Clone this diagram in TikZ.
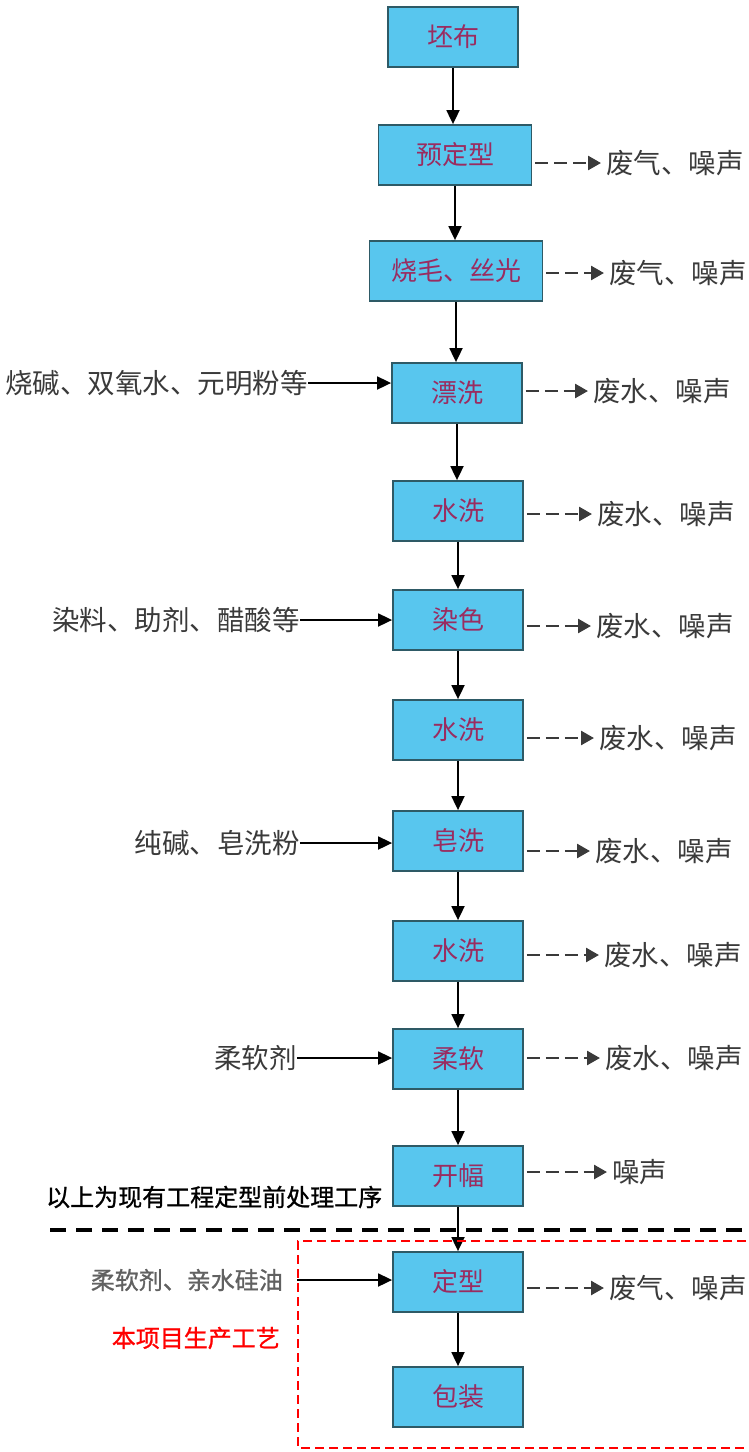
\documentclass[tikz,border=0pt]{standalone}
\usepackage{fontspec}
\setmainfont{Noto Sans CJK SC}
\usetikzlibrary{arrows.meta}
\definecolor{boxfill}{HTML}{58C6EE}
\definecolor{boxline}{HTML}{2E5A66}
\definecolor{boxtext}{HTML}{9A2C60}
\definecolor{lbl}{HTML}{3A3A3A}
\tikzset{
  box/.style={draw=boxline, fill=boxfill, line width=1.8pt, minimum width=130pt, minimum height=60pt, inner sep=0pt, text=boxtext, font=\fontsize{26pt}{26pt}\selectfont},
  outlbl/.style={anchor=west, inner sep=0pt, text=lbl, font=\fontsize{27.5pt}{27.5pt}\selectfont},
  inlbl/.style={anchor=east, inner sep=0pt, text=lbl, font=\fontsize{27.5pt}{27.5pt}\selectfont},
  flow/.style={line width=1.8pt, -{Triangle[length=14pt,width=13pt]}},
  emit/.style={line width=2.6pt, draw=lbl, dash pattern=on 13pt off 6pt, -{Triangle[length=13pt,width=14pt]}},
  note/.style={inner sep=0pt, font=\fontsize{24pt}{24pt}\selectfont\addfontfeature{FakeBold=1}}
}
\begin{document}
\begin{tikzpicture}[x=1pt,y=-1pt]
\useasboundingbox[fill=white] (0,0) rectangle (748,1452);
% boxes
\node[box] (b1) at (453,37) {坯布};
\node[box, minimum width=153pt] (b2) at (455,155) {预定型};
\node[box, minimum width=173pt] (b3) at (456,271) {烧毛、丝光};
\node[box] (b4) at (457,393) {漂洗};
\node[box] (b5) at (458,511) {水洗};
\node[box] (b6) at (458,620) {染色};
\node[box] (b7) at (458,730) {水洗};
\node[box] (b8) at (458,841) {皂洗};
\node[box] (b9) at (458,951) {水洗};
\node[box] (b10) at (458,1059) {柔软};
\node[box] (b11) at (458,1176) {开幅};
\node[box] (b12) at (458,1282) {定型};
\node[box] (b13) at (458,1397) {包装};
% vertical flow
\foreach \a/\b in {b1/b2,b2/b3,b3/b4,b4/b5,b5/b6,b6/b7,b7/b8,b8/b9,b9/b10,b10/b11,b11/b12,b12/b13}
  \draw[flow] (\a.south) -- (\a.south |- \b.north);
% outputs
\node[outlbl] (o2) at (606,163) {废气、噪声};
\node[outlbl] (o3) at (609,273) {废气、噪声};
\node[outlbl] (o4) at (593,391) {废水、噪声};
\node[outlbl] (o5) at (597,514) {废水、噪声};
\node[outlbl] (o6) at (596,626) {废水、噪声};
\node[outlbl] (o7) at (599,738) {废水、噪声};
\node[outlbl] (o8) at (595,851) {废水、噪声};
\node[outlbl] (o9) at (604,955) {废水、噪声};
\node[outlbl] (o10) at (605,1058) {废水、噪声};
\node[outlbl] (o11) at (612,1172) {噪声};
\node[outlbl] (o12) at (609,1288) {废气、噪声};
\foreach \n in {2,3,4,5,6,7,8,9,10,11,12}
  \draw[emit] (b\n.east |- o\n.west) ++(3,0) coordinate (s\n) -- ([xshift=-5pt]o\n.west);
% inputs
\node[inlbl] (i4) at (308,383) {烧碱、双氧水、元明粉等};
\node[inlbl] (i6) at (300,620) {染料、助剂、醋酸等};
\node[inlbl] (i8) at (300,843) {纯碱、皂洗粉};
\node[inlbl] (i10) at (297,1058) {柔软剂};
\foreach \n in {4,6,8,10}
  \draw[flow] (i\n.east) -- (b\n.west |- i\n.east);
% bottom section
\node[note, anchor=west, text=black] (sep) at (46,1197) {以上为现有工程定型前处理工序};
\coordinate (sepL) at (50,1230);
\coordinate (sepR) at (742,1230);
\draw[line width=3.5pt, dash pattern=on 16pt off 10pt] (sepL) -- (sepR);
\coordinate (rA) at (760,1241);
\coordinate (rB) at (298,1241);
\coordinate (rC) at (298,1448);
\coordinate (rD) at (760,1448);
\draw[red, line width=2.2pt, dash pattern=on 9pt off 5pt] (rA) -- (rB) -- (rC) -- (rD);
\node[note, anchor=east, text=lbl!80] (i12) at (283,1280) {柔软剂、亲水硅油};
\coordinate (i12s) at (297,1280);
\draw[flow] (i12s) -- (b12.west |- i12s);
\node[note, anchor=east, text=red] (proj) at (280,1338) {本项目生产工艺};
\end{tikzpicture}
\end{document}
